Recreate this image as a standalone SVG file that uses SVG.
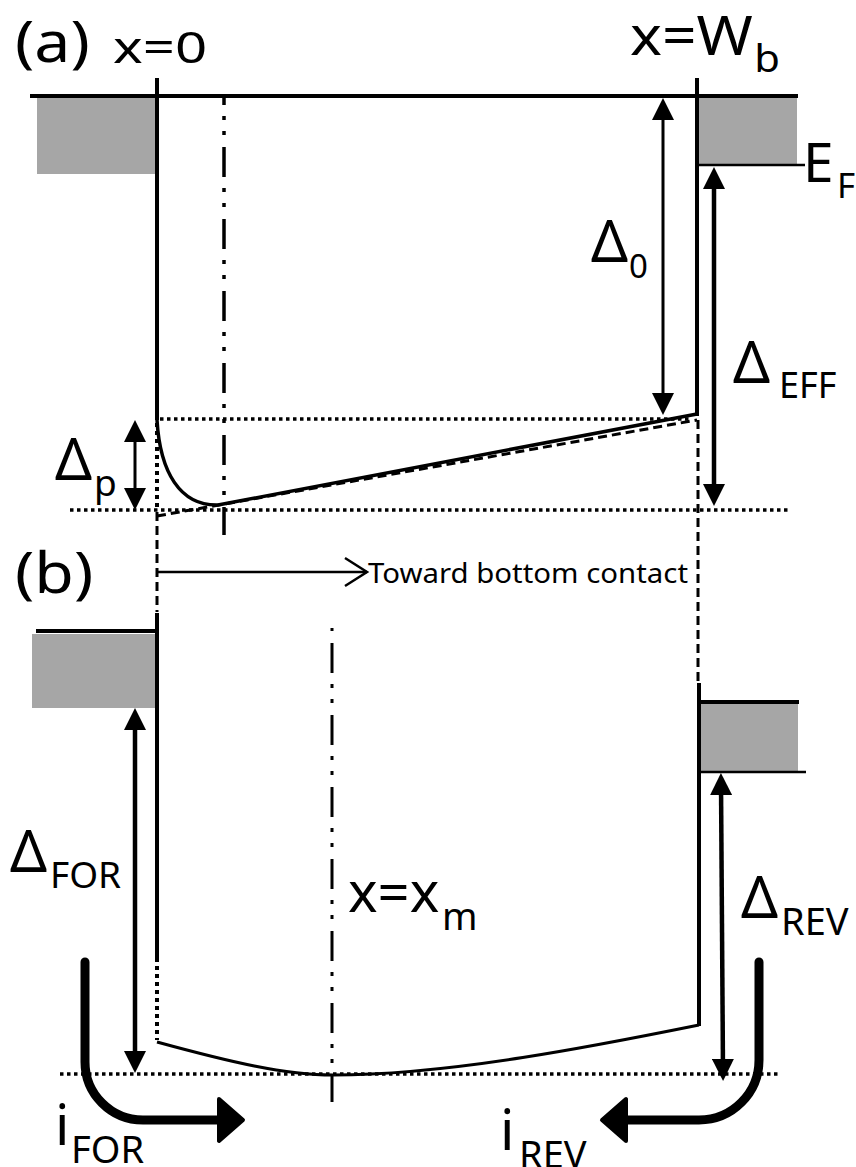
<svg xmlns="http://www.w3.org/2000/svg" width="856" height="1167" viewBox="0 0 856 1167">
<style>
  .t { font-family: "Noto Sans", "Open Sans", "Liberation Sans", sans-serif; fill: #000; }
  .ln { fill: none; stroke: #000; }
  .th { stroke-width: 4; }
  .dot { stroke-width: 3.5; stroke-dasharray: 3.5 3.5; }
  .vdot { stroke-width: 4; stroke-dasharray: 4 4; }
  .dash { stroke-width: 3; stroke-dasharray: 9 5; }
  .dd { stroke-dasharray: 30 11 4 11 4 12; }
  .gray { fill: #a6a6a6; }
</style>
<defs>
  <marker id="head" markerUnits="userSpaceOnUse" markerWidth="22" markerHeight="22" viewBox="0 0 22 22" refX="12" refY="11" orient="auto-start-reverse">
    <path d="M0,0 L22,11 L0,22 z" fill="#000"/>
  </marker>
  <marker id="open" markerUnits="userSpaceOnUse" markerWidth="30" markerHeight="34" viewBox="-2 -3 30 34" refX="22" refY="14" orient="auto">
    <path d="M0,0 L22,14 L0,28" fill="none" stroke="#000" stroke-width="2.5"/>
  </marker>
  <marker id="big" markerUnits="userSpaceOnUse" markerWidth="34" markerHeight="52" viewBox="-3 -3 34 52" refX="10" refY="23" orient="auto">
    <path d="M2,2 L26,23 L2,44 z" fill="#000" stroke="#000" stroke-width="4" stroke-linejoin="round"/>
  </marker>
</defs>

<g id="contacts">
  <rect class="gray" x="37" y="98" width="118" height="76"/>
  <rect class="gray" x="699" y="98" width="98" height="67"/>
  <rect class="gray" x="32" y="634" width="123" height="74"/>
  <rect class="gray" x="701" y="703" width="97" height="68"/>
</g>

<g id="connectors">
  <!-- panel (a) -->
  <path class="ln th" d="M30,96 H798"/>
  <path class="ln th" d="M157,78 V420"/>
  <path class="ln th" d="M697,78 V416"/>
  <path class="ln" stroke-width="2.5" d="M699,165 H805"/>
  <path class="ln dot" d="M160,419 H690"/>
  <path class="ln dot" d="M70,510 H790"/>
  <path class="ln vdot" d="M157,423 V510"/>
  <path class="ln dash" d="M157,516 L697,420"/>
  <path class="ln" stroke-width="3.5" d="M157,420 C160,472 180,506 218,505 L697,414"/>
  <path class="ln dd" stroke-width="3.5" stroke-dashoffset="23" d="M224,98 V535"/>
  <path class="ln dash" d="M157,512 V612"/>
  <path class="ln dash" d="M698,420 V682"/>
  <path class="ln" stroke-width="3" marker-start="url(#head)" marker-end="url(#head)" d="M663,108 V405"/>
  <path class="ln" stroke-width="4.5" marker-start="url(#head)" marker-end="url(#head)" d="M714,177 V496"/>
  <path class="ln" stroke-width="3" marker-start="url(#head)" marker-end="url(#head)" d="M135,430 V500"/>
  <path class="ln" stroke-width="2.5" marker-end="url(#open)" d="M157,572 H367"/>
  <!-- panel (b) -->
  <path class="ln th" d="M36,631 H157"/>
  <path class="ln th" d="M157,613 V958"/>
  <path class="ln vdot" d="M157,958 V1040"/>
  <path class="ln" stroke-width="3" d="M157,1042 C230,1062 285,1075 333,1075 C450,1075 600,1045 699,1025"/>
  <path class="ln th" d="M699,683 V1026"/>
  <path class="ln th" d="M699,702 H799"/>
  <path class="ln" stroke-width="2.5" d="M699,772 H806"/>
  <path class="ln dot" d="M60,1074 H778"/>
  <path class="ln dd" stroke-width="3" stroke-dashoffset="57" d="M332,628 V1102"/>
  <path class="ln" stroke-width="4.5" marker-start="url(#head)" marker-end="url(#head)" d="M135,718 V1063"/>
  <path class="ln" stroke-width="4.5" marker-start="url(#head)" marker-end="url(#head)" d="M721,783 L723,1071"/>
  <path class="ln" stroke-width="9" stroke-linecap="round" marker-end="url(#big)" d="M85,962 V1062 A58,58 0 0 0 143,1120 H227"/>
  <path class="ln" stroke-width="9" stroke-linecap="round" marker-end="url(#big)" d="M759,962 V1060 A60,60 0 0 1 699,1120 H618"/>
</g>

<g id="labels">
  <text id="label-a" class="t" font-size="56" transform="translate(15,62) scale(1.15,1)">(a)</text>
  <text id="label-x0" class="t" font-size="44" transform="translate(113,63) scale(1.28,1)">x=0</text>
  <text id="label-xwb" class="t" transform="translate(630,55) scale(1.1,1)"><tspan x="0" y="0" font-size="55">x=W</tspan><tspan x="113" y="17" font-size="38">b</tspan></text>
  <text id="label-ef" class="t"><tspan x="803" y="182" font-size="55">E</tspan><tspan x="837" y="198" font-size="35">F</tspan></text>
  <text id="label-d0" class="t"><tspan x="591" y="262" font-size="58">Δ</tspan><tspan x="629" y="278" font-size="33">0</tspan></text>
  <text id="label-deff" class="t"><tspan x="733" y="383" font-size="58">Δ</tspan><tspan x="779" y="398" font-size="36">EFF</tspan></text>
  <text id="label-dp" class="t"><tspan x="55" y="480" font-size="58">Δ</tspan><tspan x="94" y="496" font-size="37">p</tspan></text>
  <text id="label-toward" class="t" x="368" y="583" font-size="28" textLength="320" lengthAdjust="spacingAndGlyphs">Toward bottom contact</text>
  <text id="label-b" class="t" font-size="56" transform="translate(15,593) scale(1.15,1)">(b)</text>
  <text id="label-dfor" class="t"><tspan x="10" y="872" font-size="58">Δ</tspan><tspan x="50" y="888" font-size="37">FOR</tspan></text>
  <text id="label-xm" class="t"><tspan x="348" y="912" font-size="56">x=x</tspan><tspan x="442" y="930" font-size="38">m</tspan></text>
  <text id="label-drev" class="t"><tspan x="741" y="918" font-size="58">Δ</tspan><tspan x="781" y="935" font-size="38">REV</tspan></text>
  <text id="label-ifor" class="t"><tspan x="55" y="1145" font-size="56">i</tspan><tspan x="71" y="1163" font-size="38">FOR</tspan></text>
  <text id="label-irev" class="t"><tspan x="500" y="1150" font-size="56">i</tspan><tspan x="519" y="1168" font-size="38">REV</tspan></text>
</g>
</svg>
